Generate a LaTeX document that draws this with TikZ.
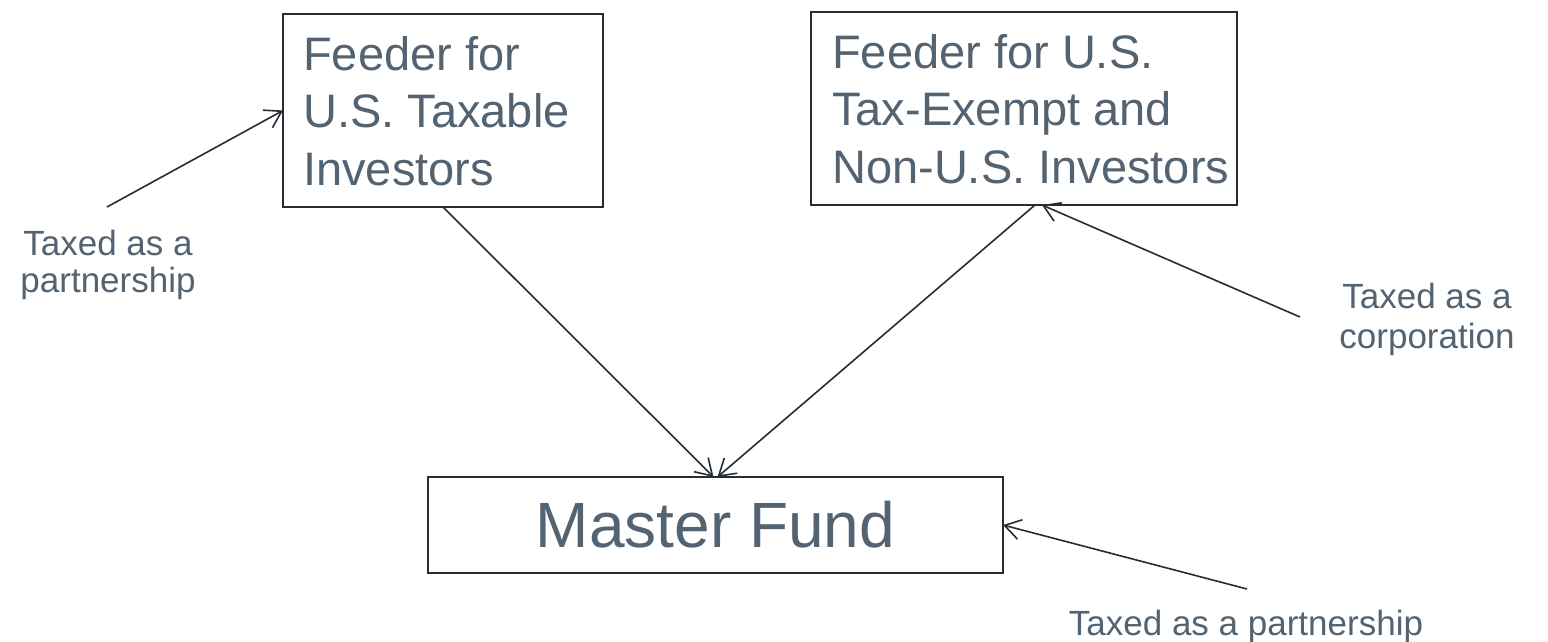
\documentclass[tikz,border=0pt]{standalone}
\usepackage{fontspec}
\setmainfont{Liberation Sans}
\usetikzlibrary{arrows.meta}
\definecolor{txt}{RGB}{83,99,113}
\definecolor{ln}{RGB}{38,45,51}
\begin{document}
\begin{tikzpicture}[x=1pt,y=-1pt,
  boxstyle/.style={draw=ln, line width=1.9pt, outer sep=0pt, inner sep=0pt},
  feedtext/.style={text=txt, inner sep=0pt, anchor=base west,
    font=\fontsize{47}{57.5}\selectfont},
  lbl/.style={text=txt, inner sep=0pt, font=\fontsize{35}{38}\selectfont},
  arr/.style={draw=ln, line width=1.6pt, -{Straight Barb[length=16pt,width=20pt,line width=1.6pt]}}]
\useasboundingbox (0,0) rectangle (1548,641);
\fill[white] (0,0) rectangle (1548,641);

\node[boxstyle, anchor=north west, minimum width=320pt, minimum height=193pt] (box1) at (283,14) {};
\node[boxstyle, anchor=north west, minimum width=426pt, minimum height=193pt] (box2) at (811,12) {};
\node[feedtext] (box1text) at (303,70)
  {\begin{tabular}[t]{@{}l@{}}Feeder for\\U.S. Taxable\\Investors\end{tabular}};
\node[feedtext] (box2text) at (832,68)
  {\begin{tabular}[t]{@{}l@{}}Feeder for U.S.\\Tax-Exempt and\\Non-U.S. Investors\end{tabular}};
\node[boxstyle, text=txt, anchor=north west, minimum width=575pt, minimum height=96pt,
  font=\fontsize{64}{72}\selectfont] (master) at (428,477) {Master Fund};

\draw[arr] (box1.south) -- ([xshift=-2pt]master.north);
\draw[arr] ([xshift=11pt]box2.south) -- ([xshift=2pt]master.north);

\coordinate (t1) at (107,207);
\coordinate (t2) at (1300,317);
\coordinate (t3) at (1247,589);
\draw[arr] (t1) -- (box1.west);
\draw[arr] (t2) -- ([xshift=18pt]box2.south);
\draw[arr] (t3) -- (master.east);

\node[lbl, anchor=base, font=\fontsize{35}{37}\selectfont] (l1) at (108,255)
  {\begin{tabular}[t]{@{}c@{}}Taxed as a\\partnership\end{tabular}};
\node[lbl, anchor=base, font=\fontsize{35}{40}\selectfont] (l2) at (1427,308)
  {\begin{tabular}[t]{@{}c@{}}Taxed as a\\corporation\end{tabular}};
\node[lbl, anchor=base] (l3) at (1246,635) {Taxed as a partnership};
\end{tikzpicture}
\end{document}
